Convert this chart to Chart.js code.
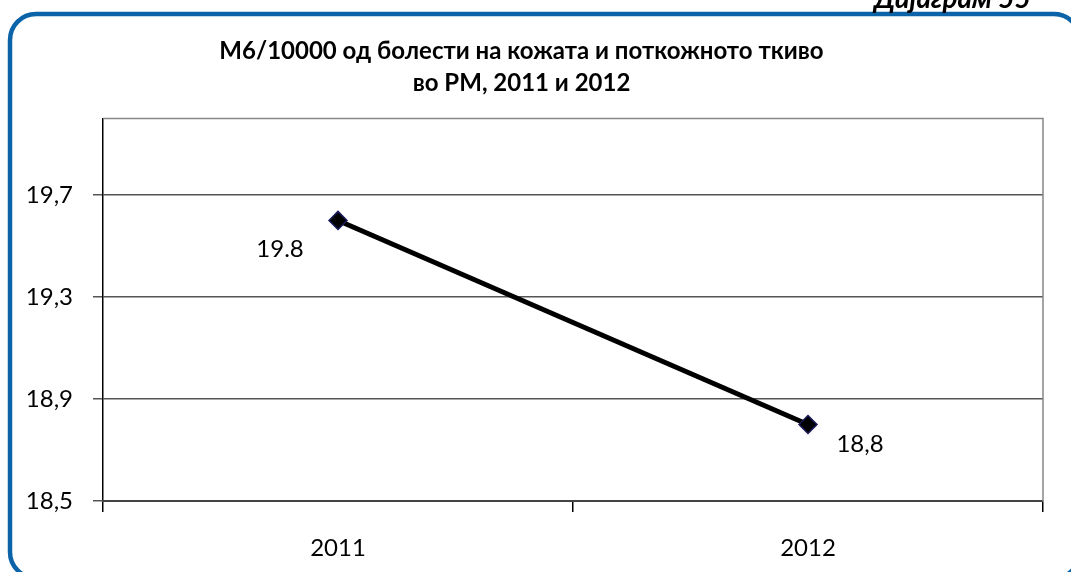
<!DOCTYPE html>
<html>
<head>
<meta charset="utf-8">
<script src="https://cdn.jsdelivr.net/npm/chart.js@4"></script>
<style>
  html, body { margin: 0; padding: 0; background: #fff; }
  #wrap { position: relative; width: 1071px; height: 572px; overflow: hidden; }
  #caption {
    position: absolute; left: 874px; top: -20px;
    font: italic bold 28px Lato, sans-serif; color: #000; white-space: nowrap;
  }
</style>
</head>
<body>
<div id="wrap">
  <canvas id="chart" width="1071" height="572"></canvas>
  <div id="caption">Дијаграм 55</div>
</div>
<script>
const years = ['2011', '2012'];
const values = [19.6, 18.8];
const valueLabels = ['19.8', '18,8'];
const yTicks = [18.5, 18.9, 19.3, 19.7];
const titleLines = ['М6/10000 од болести на кожата и поткожното ткиво', 'во РМ, 2011 и 2012'];

// blue rounded frame around the whole chart + plot area border
const framePlugin = {
  id: 'frame',
  beforeDraw(chart) {
    const c = chart.ctx;
    c.save();
    c.strokeStyle = '#0b64a8';
    c.lineWidth = 4.5;
    c.beginPath();
    c.roundRect(10, 14, 1070, 564, 26);
    c.stroke();
    c.restore();
  },
  afterDraw(chart) {
    const a = chart.chartArea;
    const c = chart.ctx;
    c.save();
    c.strokeStyle = '#888';
    c.lineWidth = 1.5;
    c.beginPath();
    c.moveTo(a.left, a.top);
    c.lineTo(a.right, a.top);
    c.lineTo(a.right, a.bottom);
    c.stroke();
    c.restore();
  }
};

// value labels next to the points
const labelPlugin = {
  id: 'valueLabels',
  afterDatasetsDraw(chart) {
    const c = chart.ctx;
    const pts = chart.getDatasetMeta(0).data;
    const offs = [[-58, 29], [52, 20]];
    c.save();
    c.font = '24px Lato, sans-serif';
    c.fillStyle = '#000';
    c.textAlign = 'center';
    c.textBaseline = 'middle';
    pts.forEach((p, i) => {
      c.fillText(valueLabels[i], p.x + offs[i][0], p.y + offs[i][1]);
    });
    c.restore();
  }
};

new Chart(document.getElementById('chart'), {
  type: 'line',
  data: {
    labels: years,
    datasets: [{
      data: values,
      borderColor: '#000',
      borderWidth: 5,
      pointStyle: 'rectRot',
      pointRadius: 9,
      pointBackgroundColor: '#000',
      pointBorderColor: '#1a1a5a',
      pointBorderWidth: 1.5,
      tension: 0,
    }],
  },
  options: {
    responsive: false,
    animation: false,
    layout: { padding: { left: 0, right: 28, top: 0, bottom: 10 } },
    plugins: {
      legend: { display: false },
      tooltip: { enabled: false },
      title: {
        display: true,
        text: titleLines,
        color: '#000',
        font: { family: 'Lato, sans-serif', size: 24, weight: 'bold', lineHeight: 1.3 },
        padding: { top: 36, bottom: 20 },
      },
    },
    scales: {
      y: {
        min: 18.5,
        max: 20.0,
        afterBuildTicks: s => { s.ticks = yTicks.map(v => ({ value: v })); },
        afterFit: s => { s.width = 103; },
        ticks: {
          color: '#000',
          padding: 20,
          font: { family: 'Lato, sans-serif', size: 24 },
          callback: v => v.toFixed(1).replace('.', ','),
        },
        grid: { color: '#555', lineWidth: 1.5, tickLength: 10 },
        border: { color: '#000', width: 1.5 },
      },
      x: {
        offset: true,
        afterFit: s => { s.height = 61; },
        ticks: {
          color: '#000',
          padding: 22,
          font: { family: 'Lato, sans-serif', size: 24 },
        },
        grid: { offset: true, drawOnChartArea: false, color: '#000', lineWidth: 1.5, tickLength: 11 },
        border: { color: '#444', width: 2 },
      },
    },
  },
  plugins: [framePlugin, labelPlugin],
});
</script>
</body>
</html>
